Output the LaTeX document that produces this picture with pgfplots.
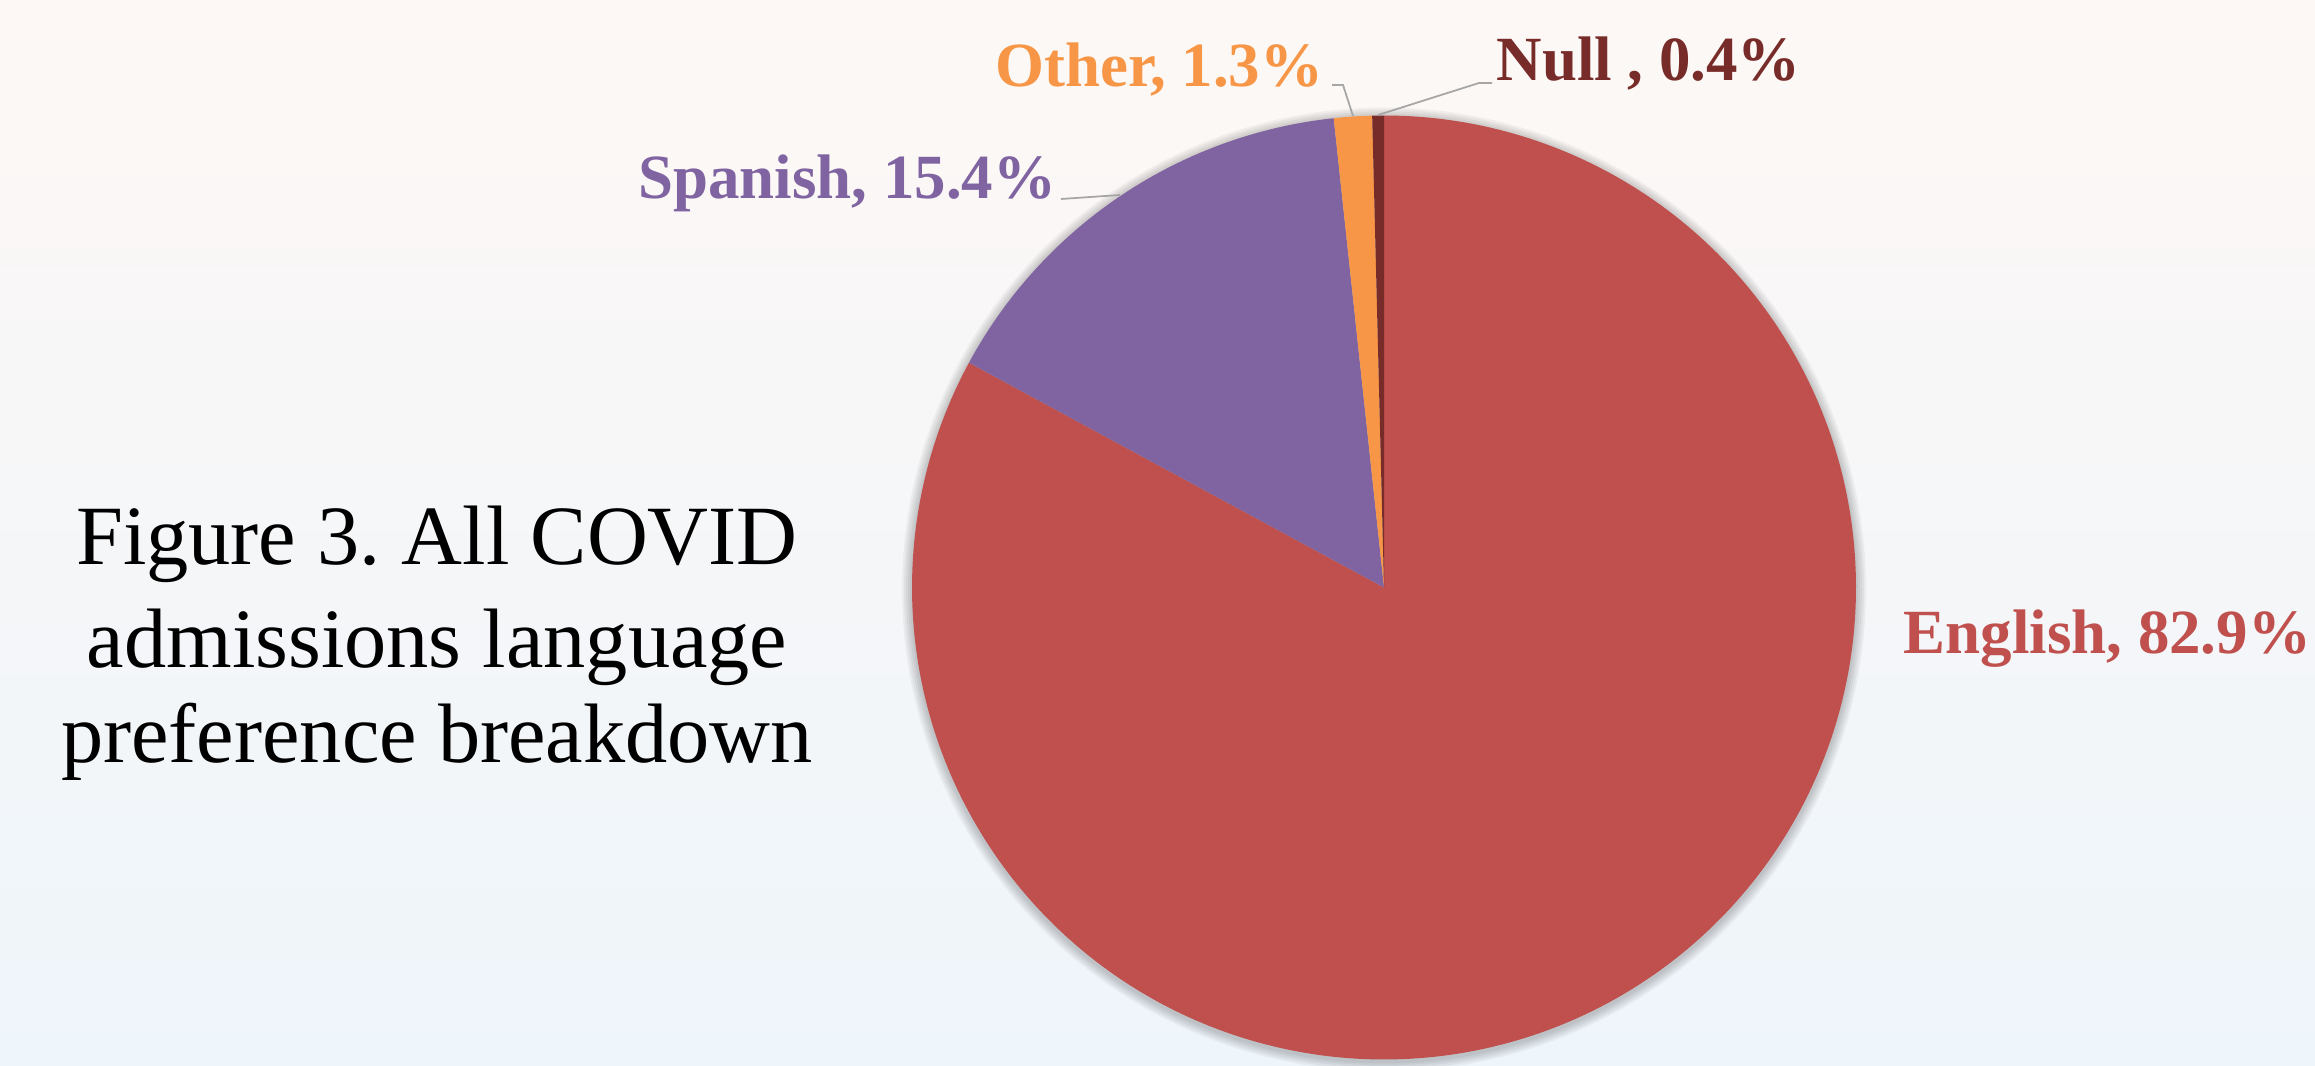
\documentclass[border=0pt]{standalone}
\usepackage{pgfplots}
\pgfplotsset{compat=1.18}
\usepackage{pgfplotstable}
\usepackage{fontspec}
\setmainfont{Liberation Serif}
\definecolor{cEng}{HTML}{C0504D}
\definecolor{cSpa}{HTML}{8064A2}
\definecolor{cOth}{HTML}{F79646}
\definecolor{cNul}{HTML}{772C2A}
\definecolor{cLead}{HTML}{A6A6A6}
\definecolor{bgTop}{RGB}{253,248,245}
\definecolor{bgBot}{RGB}{238,245,251}

\pgfplotstableread[col sep=comma]{
lang,pct
English,82.9
Spanish,15.4
Other,1.3
Null,0.4
}\pietable
\pgfplotstablegetelem{0}{pct}\of\pietable \let\pA\pgfplotsretval
\pgfplotstablegetelem{1}{pct}\of\pietable \let\pB\pgfplotsretval
\pgfplotstablegetelem{2}{pct}\of\pietable \let\pC\pgfplotsretval
\pgfplotstablegetelem{3}{pct}\of\pietable \let\pD\pgfplotsretval
\pgfmathsetmacro\aZero{90}
\pgfmathsetmacro\aOne{\aZero-3.6*\pA}
\pgfmathsetmacro\aTwo{\aOne-3.6*\pB}
\pgfmathsetmacro\aThree{\aTwo-3.6*\pC}
\pgfmathsetmacro\aFour{\aThree-3.6*\pD}
\def\cx{1384}
\def\cy{477.5}
\def\R{472}
\newcommand\labfont{\fontsize{17.9}{20}\selectfont\bfseries}
\newcommand\titfont{\fontsize{24}{28}\selectfont\frenchspacing}

\begin{document}%
\begin{tikzpicture}
\shade[top color=bgTop, bottom color=bgBot] (0,0) rectangle (231.5mm,106.5mm);
\begin{axis}[at={(0,0)}, anchor=south west, scale only axis,
  width=231.5mm, height=106.5mm,
  xmin=0, xmax=2315, ymin=0, ymax=1065,
  hide axis, clip=false]
% soft shadow
\pgfplotsinvokeforeach{2,4,6,8,10}{
  \addplot[draw=none, fill=black, fill opacity=0.045, domain=0:360, samples=181, variable=\t]
    ({\cx+(\R+#1)*cos(\t)}, {\cy-2+(\R+#1)*sin(\t)}) -- cycle;
}
% slices
\addplot[draw=none, fill=cEng, domain=\aOne:\aZero, samples=300, variable=\t]
  ({\cx+\R*cos(\t)}, {\cy+\R*sin(\t)}) -- (axis cs:\cx,\cy) -- cycle;
\addplot[draw=none, fill=cSpa, domain=\aTwo:\aOne, samples=80, variable=\t]
  ({\cx+\R*cos(\t)}, {\cy+\R*sin(\t)}) -- (axis cs:\cx,\cy) -- cycle;
\addplot[draw=none, fill=cOth, domain=\aThree:\aTwo, samples=10, variable=\t]
  ({\cx+\R*cos(\t)}, {\cy+\R*sin(\t)}) -- (axis cs:\cx,\cy) -- cycle;
\addplot[draw=none, fill=cNul, domain=\aFour:\aThree, samples=5, variable=\t]
  ({\cx+\R*cos(\t)}, {\cy+\R*sin(\t)}) -- (axis cs:\cx,\cy) -- cycle;
% leader lines
\addplot[cLead, line width=0.5pt] coordinates {(1061,866) (1120,870)};
\addplot[cLead, line width=0.5pt] coordinates {(1332,980) (1343,980) (1353,949)};
\addplot[cLead, line width=0.5pt] coordinates {(1492,982) (1479,982) (1378,950)};
% labels
\node[anchor=base west, text=cEng, font=\labfont, inner sep=0pt] at (axis cs:1903,411) {English, 82.9\%};
\node[anchor=base east, text=cSpa, font=\labfont, inner sep=0pt] at (axis cs:1057,866) {Spanish, 15.4\%};
\node[anchor=base east, text=cOth, font=\labfont, inner sep=0pt] at (axis cs:1324,978) {Other, 1.3\%};
\node[anchor=base west, text=cNul, font=\labfont, inner sep=0pt] at (axis cs:1496,984) {Null , 0.4\%};
% title
\node[anchor=base, font=\titfont, inner sep=0pt] at (axis cs:437,500) {Figure 3. All COVID};
\node[anchor=base, font=\titfont, inner sep=0pt] at (axis cs:437,397) {admissions language};
\node[anchor=base, font=\titfont, inner sep=0pt] at (axis cs:437,303) {preference breakdown};
\end{axis}
\pgfresetboundingbox
\useasboundingbox (0,0) rectangle (231.5mm,106.5mm);
\end{tikzpicture}%
\end{document}
